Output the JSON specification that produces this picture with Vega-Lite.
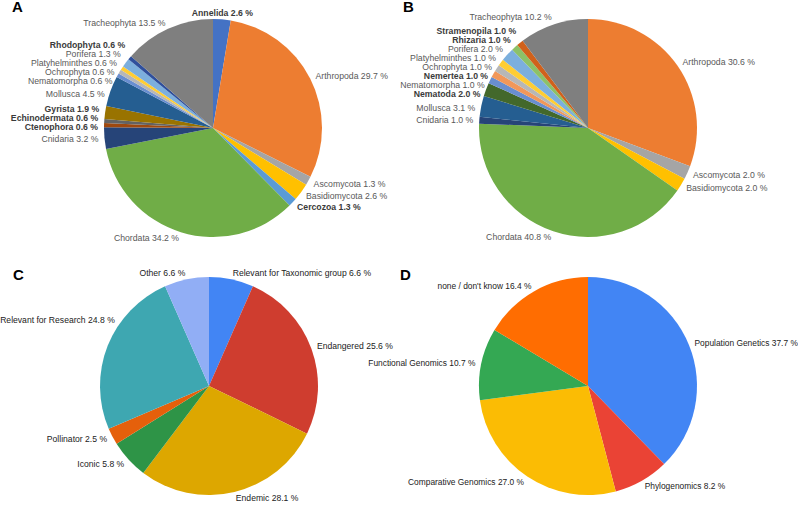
{
  "$schema": "https://vega.github.io/schema/vega-lite/v6.json",
  "background": "white",
  "padding": 0,
  "config": {"view": {"stroke": null}},
  "spacing": 0,
  "bounds": "flush",
  "columns": 2,
  "concat": [
    {
      "width": 426, "height": 254,
      "title": {"text": "A", "anchor": "start", "frame": "group", "orient": "top", "offset": -26, "dx": 12, "baseline": "alphabetic", "font": "Liberation Sans", "fontSize": 15, "fontWeight": "bold", "color": "#000000"},
      "data": {"values": [
        {"i": 1, "n": "Annelida", "v": 2.6, "ex": true},
        {"i": 2, "n": "Arthropoda", "v": 29.7, "ex": false},
        {"i": 3, "n": "Ascomycota", "v": 1.3, "ex": false},
        {"i": 4, "n": "Basidiomycota", "v": 2.6, "ex": false},
        {"i": 5, "n": "Cercozoa", "v": 1.3, "ex": true},
        {"i": 6, "n": "Chordata", "v": 34.2, "ex": false},
        {"i": 7, "n": "Cnidaria", "v": 3.2, "ex": false},
        {"i": 8, "n": "Ctenophora", "v": 0.6, "ex": true},
        {"i": 9, "n": "Echinodermata", "v": 0.6, "ex": true},
        {"i": 10, "n": "Gyrista", "v": 1.9, "ex": true},
        {"i": 11, "n": "Mollusca", "v": 4.5, "ex": false},
        {"i": 12, "n": "Nematomorpha", "v": 0.6, "ex": false},
        {"i": 13, "n": "Ochrophyta", "v": 0.6, "ex": false},
        {"i": 14, "n": "Platyhelminthes", "v": 0.6, "ex": false},
        {"i": 15, "n": "Porifera", "v": 1.3, "ex": false},
        {"i": 16, "n": "Rhodophyta", "v": 0.6, "ex": true},
        {"i": 17, "n": "Tracheophyta", "v": 13.5, "ex": false}
      ]},
      "transform": [
        {"joinaggregate": [{"op": "sum", "field": "v", "as": "tot"}]},
        {"window": [{"op": "sum", "field": "v", "as": "cum"}], "sort": [{"field": "i", "order": "ascending"}], "frame": [null, 0], "ignorePeers": true},
        {"calculate": "2*PI*(datum.cum - datum.v/2)/datum.tot", "as": "a"},
        {"calculate": "115*sin(datum.a)", "as": "lx"},
        {"calculate": "-115*cos(datum.a)", "as": "y0"},
        {"calculate": "datum.a < PI ? 'R' : 'L'", "as": "side"},
        {"window": [{"op": "row_number", "as": "jd"}], "groupby": ["side"], "sort": [{"field": "y0", "order": "descending"}]},
        {"calculate": "datum.y0 + 9*datum.jd", "as": "zd"},
        {"window": [{"op": "min", "field": "zd", "as": "zmin"}], "groupby": ["side"], "sort": [{"field": "y0", "order": "descending"}], "frame": [null, 0], "ignorePeers": true},
        {"window": [{"op": "row_number", "as": "ja"}], "groupby": ["side"], "sort": [{"field": "y0", "order": "ascending"}]},
        {"calculate": "datum.y0 - 9*datum.ja", "as": "za"},
        {"window": [{"op": "max", "field": "za", "as": "zmax"}], "groupby": ["side"], "sort": [{"field": "y0", "order": "ascending"}], "frame": [null, 0], "ignorePeers": true},
        {"calculate": "(datum.zmin - 9*datum.jd + datum.zmax + 9*datum.ja)/2", "as": "ly"},
        {"calculate": "datum.n + ' ' + format(datum.v, '.1f') + ' %'", "as": "lab"}
      ],
      "layer": [
        {
          "mark": {"type": "arc", "radius": 109},
          "encoding": {
            "theta": {"field": "v", "type": "quantitative", "stack": true},
            "order": {"field": "i", "type": "quantitative"},
            "color": {"field": "n", "type": "nominal", "legend": null, "scale": {
              "domain": ["Annelida", "Arthropoda", "Ascomycota", "Basidiomycota", "Cercozoa", "Chordata", "Cnidaria", "Ctenophora", "Echinodermata", "Gyrista", "Mollusca", "Nematomorpha", "Ochrophyta", "Platyhelminthes", "Porifera", "Rhodophyta", "Tracheophyta"],
              "range": ["#4472C4", "#ED7D31", "#A5A5A5", "#FFC000", "#5B9BD5", "#70AD47", "#264478", "#9E480E", "#636363", "#997300", "#255E91", "#698ED0", "#B7B7B7", "#FFCD33", "#7CAFDD", "#2F4F9C", "#7F7F7F"]}}
          }
        },
        {
          "mark": {"type": "text", "font": "Liberation Sans", "fontSize": 8.7, "baseline": "middle",
            "align": {"expr": "datum.a < 0.14 || datum.a > 6.14 ? 'center' : (datum.a < PI ? 'left' : 'right')"},
            "fontWeight": {"expr": "datum.ex ? 'bold' : 'normal'"}},
          "encoding": {
            "x": {"field": "lx", "type": "quantitative", "scale": {"domain": [-213, 213], "nice": false, "zero": false}, "axis": null},
            "y": {"field": "ly", "type": "quantitative", "scale": {"domain": [127, -127], "nice": false, "zero": false}, "axis": null},
            "text": {"field": "lab"},
            "color": {"condition": {"test": "datum.ex", "value": "#3A3A3A"}, "value": "#595959"}
          }
        }
      ],
      "resolve": {"scale": {"theta": "independent", "color": "independent"}}
    },
    {
      "width": 324, "height": 254,
      "title": {"text": "B", "anchor": "start", "frame": "group", "orient": "top", "offset": -26, "dx": -23, "baseline": "alphabetic", "font": "Liberation Sans", "fontSize": 15, "fontWeight": "bold", "color": "#000000"},
      "data": {"values": [
        {"i": 1, "n": "Arthropoda", "v": 30.6, "ex": false},
        {"i": 2, "n": "Ascomycota", "v": 2.0, "ex": false},
        {"i": 3, "n": "Basidiomycota", "v": 2.0, "ex": false},
        {"i": 4, "n": "Chordata", "v": 40.8, "ex": false},
        {"i": 5, "n": "Cnidaria", "v": 1.0, "ex": false},
        {"i": 6, "n": "Mollusca", "v": 3.1, "ex": false},
        {"i": 7, "n": "Nematoda", "v": 2.0, "ex": true},
        {"i": 8, "n": "Nematomorpha", "v": 1.0, "ex": false},
        {"i": 9, "n": "Nemertea", "v": 1.0, "ex": true},
        {"i": 10, "n": "Ochrophyta", "v": 1.0, "ex": false},
        {"i": 11, "n": "Platyhelminthes", "v": 1.0, "ex": false},
        {"i": 12, "n": "Porifera", "v": 2.0, "ex": false},
        {"i": 13, "n": "Rhizaria", "v": 1.0, "ex": true},
        {"i": 14, "n": "Stramenopila", "v": 1.0, "ex": true},
        {"i": 15, "n": "Tracheophyta", "v": 10.2, "ex": false}
      ]},
      "transform": [
        {"joinaggregate": [{"op": "sum", "field": "v", "as": "tot"}]},
        {"window": [{"op": "sum", "field": "v", "as": "cum"}], "sort": [{"field": "i", "order": "ascending"}], "frame": [null, 0], "ignorePeers": true},
        {"calculate": "2*PI*(datum.cum - datum.v/2)/datum.tot", "as": "a"},
        {"calculate": "115*sin(datum.a)", "as": "lx"},
        {"calculate": "-115*cos(datum.a)", "as": "y0"},
        {"calculate": "datum.a < PI ? 'R' : 'L'", "as": "side"},
        {"window": [{"op": "row_number", "as": "jd"}], "groupby": ["side"], "sort": [{"field": "y0", "order": "descending"}]},
        {"calculate": "datum.y0 + 9*datum.jd", "as": "zd"},
        {"window": [{"op": "min", "field": "zd", "as": "zmin"}], "groupby": ["side"], "sort": [{"field": "y0", "order": "descending"}], "frame": [null, 0], "ignorePeers": true},
        {"window": [{"op": "row_number", "as": "ja"}], "groupby": ["side"], "sort": [{"field": "y0", "order": "ascending"}]},
        {"calculate": "datum.y0 - 9*datum.ja", "as": "za"},
        {"window": [{"op": "max", "field": "za", "as": "zmax"}], "groupby": ["side"], "sort": [{"field": "y0", "order": "ascending"}], "frame": [null, 0], "ignorePeers": true},
        {"calculate": "(datum.zmin - 9*datum.jd + datum.zmax + 9*datum.ja)/2", "as": "ly"},
        {"calculate": "datum.n + ' ' + format(datum.v, '.1f') + ' %'", "as": "lab"}
      ],
      "layer": [
        {
          "mark": {"type": "arc", "radius": 109},
          "encoding": {
            "theta": {"field": "v", "type": "quantitative", "stack": true},
            "order": {"field": "i", "type": "quantitative"},
            "color": {"field": "n", "type": "nominal", "legend": null, "scale": {
              "domain": ["Arthropoda", "Ascomycota", "Basidiomycota", "Chordata", "Cnidaria", "Mollusca", "Nematoda", "Nematomorpha", "Nemertea", "Ochrophyta", "Platyhelminthes", "Porifera", "Rhizaria", "Stramenopila", "Tracheophyta"],
              "range": ["#ED7D31", "#A5A5A5", "#FFC000", "#70AD47", "#264478", "#255E91", "#43682B", "#698ED0", "#F1975A", "#B7B7B7", "#FFCD33", "#7CAFDD", "#8CC168", "#D0611B", "#7F7F7F"]}}
          }
        },
        {
          "mark": {"type": "text", "font": "Liberation Sans", "fontSize": 8.7, "baseline": "middle",
            "align": {"expr": "datum.a < 0.14 || datum.a > 6.14 ? 'center' : (datum.a < PI ? 'left' : 'right')"},
            "fontWeight": {"expr": "datum.ex ? 'bold' : 'normal'"}},
          "encoding": {
            "x": {"field": "lx", "type": "quantitative", "scale": {"domain": [-162, 162], "nice": false, "zero": false}, "axis": null},
            "y": {"field": "ly", "type": "quantitative", "scale": {"domain": [127, -127], "nice": false, "zero": false}, "axis": null},
            "text": {"field": "lab"},
            "color": {"condition": {"test": "datum.ex", "value": "#3A3A3A"}, "value": "#595959"}
          }
        }
      ],
      "resolve": {"scale": {"theta": "independent", "color": "independent"}}
    },
    {
      "width": 418, "height": 262,
      "title": {"text": "C", "anchor": "start", "frame": "group", "orient": "top", "offset": -40, "dx": 13, "baseline": "alphabetic", "font": "Liberation Sans", "fontSize": 15, "fontWeight": "bold", "color": "#000000"},
      "data": {"values": [
        {"i": 1, "n": "Relevant for Taxonomic group", "v": 6.6},
        {"i": 2, "n": "Endangered", "v": 25.6},
        {"i": 3, "n": "Endemic", "v": 28.1},
        {"i": 4, "n": "Iconic", "v": 5.8},
        {"i": 5, "n": "Pollinator", "v": 2.5},
        {"i": 6, "n": "Relevant for Research", "v": 24.8},
        {"i": 7, "n": "Other", "v": 6.6}
      ]},
      "transform": [
        {"joinaggregate": [{"op": "sum", "field": "v", "as": "tot"}]},
        {"window": [{"op": "sum", "field": "v", "as": "cum"}], "sort": [{"field": "i", "order": "ascending"}], "frame": [null, 0], "ignorePeers": true},
        {"calculate": "datum.n + ' ' + format(datum.v, '.1f') + ' %'", "as": "lab"},
        {"calculate": "2*PI*(datum.cum - datum.v/2)/datum.tot", "as": "a0"},
        {"calculate": "length(datum.lab)*4.1", "as": "lw"},
        {"calculate": "datum.a0 >= PI && (209 + 115*sin(datum.a0) - datum.lw) < 0 ? 2*PI - asin((209 - datum.lw)/115) : datum.a0", "as": "a"},
        {"calculate": "115*sin(datum.a)", "as": "lx"},
        {"calculate": "-115*cos(datum.a)", "as": "ly"}
      ],
      "layer": [
        {
          "mark": {"type": "arc", "radius": 109},
          "encoding": {
            "theta": {"field": "v", "type": "quantitative", "stack": true},
            "order": {"field": "i", "type": "quantitative"},
            "color": {"field": "n", "type": "nominal", "legend": null, "scale": {
              "domain": ["Relevant for Taxonomic group", "Endangered", "Endemic", "Iconic", "Pollinator", "Relevant for Research", "Other"],
              "range": ["#4285F4", "#CF3D2F", "#DDA700", "#2E9447", "#E5600B", "#3EA7B1", "#91AEF5"]}}
          }
        },
        {
          "mark": {"type": "text", "font": "Liberation Sans", "fontSize": 8.6, "baseline": "middle", "color": "#222222",
            "align": {"expr": "datum.a < PI ? 'left' : 'right'"}},
          "encoding": {
            "x": {"field": "lx", "type": "quantitative", "scale": {"domain": [-209, 209], "nice": false, "zero": false}, "axis": null},
            "y": {"field": "ly", "type": "quantitative", "scale": {"domain": [131, -131], "nice": false, "zero": false}, "axis": null},
            "text": {"field": "lab"}
          }
        }
      ],
      "resolve": {"scale": {"theta": "independent", "color": "independent"}}
    },
    {
      "width": 324, "height": 262,
      "title": {"text": "D", "anchor": "start", "frame": "group", "orient": "top", "offset": -40, "dx": -26, "baseline": "alphabetic", "font": "Liberation Sans", "fontSize": 15, "fontWeight": "bold", "color": "#000000"},
      "data": {"values": [
        {"i": 1, "n": "Population Genetics", "v": 37.7},
        {"i": 2, "n": "Phylogenomics", "v": 8.2},
        {"i": 3, "n": "Comparative Genomics", "v": 27.0},
        {"i": 4, "n": "Functional Genomics", "v": 10.7},
        {"i": 5, "n": "none / don't know", "v": 16.4}
      ]},
      "transform": [
        {"joinaggregate": [{"op": "sum", "field": "v", "as": "tot"}]},
        {"window": [{"op": "sum", "field": "v", "as": "cum"}], "sort": [{"field": "i", "order": "ascending"}], "frame": [null, 0], "ignorePeers": true},
        {"calculate": "2*PI*(datum.cum - datum.v/2)/datum.tot", "as": "a"},
        {"calculate": "115*sin(datum.a)", "as": "lx"},
        {"calculate": "-115*cos(datum.a)", "as": "ly"},
        {"calculate": "datum.n + ' ' + format(datum.v, '.1f') + ' %'", "as": "lab"}
      ],
      "layer": [
        {
          "mark": {"type": "arc", "radius": 109},
          "encoding": {
            "theta": {"field": "v", "type": "quantitative", "stack": true},
            "order": {"field": "i", "type": "quantitative"},
            "color": {"field": "n", "type": "nominal", "legend": null, "scale": {
              "domain": ["Population Genetics", "Phylogenomics", "Comparative Genomics", "Functional Genomics", "none / don't know"],
              "range": ["#4285F4", "#EA4335", "#FBBC04", "#34A853", "#FF6D01"]}}
          }
        },
        {
          "mark": {"type": "text", "font": "Liberation Sans", "fontSize": 8.4, "baseline": "middle", "color": "#222222",
            "align": {"expr": "datum.a < PI ? 'left' : 'right'"}},
          "encoding": {
            "x": {"field": "lx", "type": "quantitative", "scale": {"domain": [-162, 162], "nice": false, "zero": false}, "axis": null},
            "y": {"field": "ly", "type": "quantitative", "scale": {"domain": [131, -131], "nice": false, "zero": false}, "axis": null},
            "text": {"field": "lab"}
          }
        }
      ],
      "resolve": {"scale": {"theta": "independent", "color": "independent"}}
    }
  ]
}
